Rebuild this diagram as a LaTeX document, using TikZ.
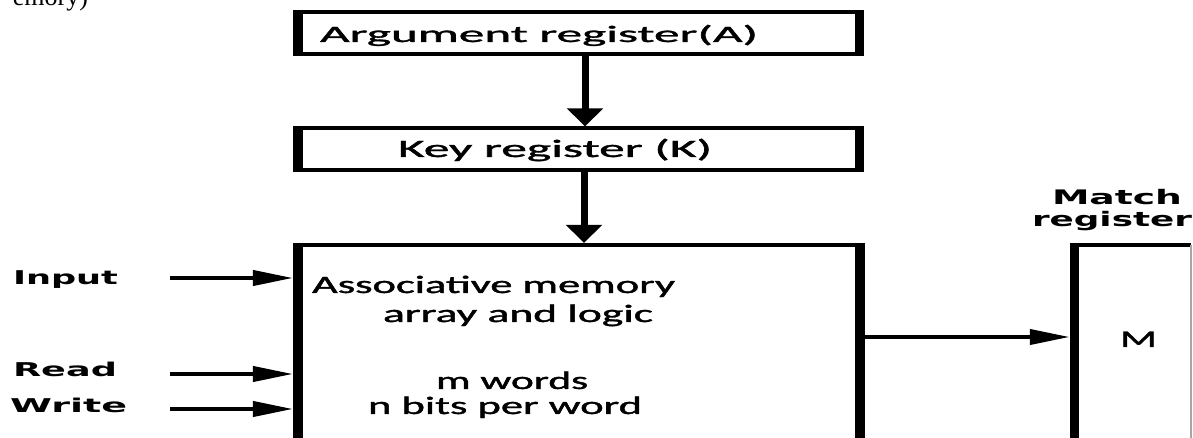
\documentclass[tikz,border=0pt]{standalone}
\usepackage{fontspec}
\usepackage{graphicx}
\usetikzlibrary{arrows.meta,calc}
\newfontfamily\cfont[FakeBold=1.2]{Carlito}
\newfontfamily\bfont{DejaVu Sans}
\newfontfamily\tfont{Liberation Serif}
\newcommand{\fitw}[4]{\resizebox{#1}{\height}{#2\fontsize{#3}{#3}\selectfont #4}}
\begin{document}
\begin{tikzpicture}[x=1bp,y=-1bp,
  txt/.style={inner sep=0pt, outer sep=0pt},
  frame/.style={draw=none, inner sep=0pt, outer sep=0pt},
  hl/.style={line width=4bp},
  vl/.style={line width=9.5bp},
  downarrow/.style={line width=7bp, -{Triangle[length=18bp,width=35bp]}},
  rightarrow/.style={line width=4bp, -{Triangle[length=40bp,width=15bp]}},
]
\path[use as bounding box, clip] (0,0) rectangle (1193,438);
\fill[white] (0,0) rectangle (1193,438);

% box frames
\node[frame, minimum width=561.5bp, minimum height=42bp] (arg) at (578.75,33) {};
\node[frame, minimum width=561.5bp, minimum height=42bp] (key) at (578.75,149.5) {};
\node[frame, minimum width=562bp, minimum height=225bp] (mem) at (579,357.5) {};
\node[frame, minimum width=116.5bp, minimum height=225bp] (match) at (1132.75,357.5) {};

\foreach \n in {arg,key,mem}{
  \draw[hl] (\n.north west) rectangle (\n.south east);
  \draw[vl] ([yshift=2bp]\n.north west) -- ([yshift=-2bp]\n.south west);
  \draw[vl] ([yshift=2bp]\n.north east) -- ([yshift=-2bp]\n.south east);
}
\draw[hl] (match.south west) -- (match.north west) -- (match.north east);
\draw[line width=2bp, gray!70] (match.north east) -- (match.south east);
\draw[vl] ([yshift=2bp]match.north west) -- ([yshift=-2bp]match.south west);

% texts
\node[txt, anchor=base east] (frag) at (88,6) {\tfont\fontsize{26bp}{26bp}\selectfont emory)};
\node[txt, anchor=base west] (targ) at (320,42) {\fitw{438bp}{\cfont}{23.5bp}{Argument register(A)}};
\node[txt, anchor=base west] (tkey) at (398,157) {\fitw{314bp}{\cfont}{25bp}{Key register (K)}};
\node[txt, anchor=base west] (tm1) at (312,293) {\fitw{363bp}{\cfont}{25bp}{Associative memory}};
\node[txt, anchor=base west] (tm2) at (383,322) {\fitw{270bp}{\cfont}{25bp}{array and logic}};
\node[txt, anchor=base west] (tm3) at (436,389) {\fitw{152bp}{\cfont}{25bp}{m words}};
\node[txt, anchor=base west] (tm4) at (368,414) {\fitw{274bp}{\cfont}{25bp}{n bits per word}};
\node[txt, anchor=base west] (tM) at (1120,347) {\fitw{37bp}{\cfont}{24bp}{M}};
\node[txt, anchor=base west] (tin) at (13,285) {\fitw{105bp}{\bfont\bfseries}{19bp}{Input}};
\node[txt, anchor=base west] (trd) at (13,377) {\fitw{104bp}{\bfont\bfseries}{19bp}{Read}};
\node[txt, anchor=base west] (twr) at (10,413) {\fitw{117bp}{\bfont\bfseries}{19bp}{Write}};
\node[txt, anchor=base west] (tmatch) at (1052,205) {\fitw{130bp}{\bfont\bfseries}{20bp}{Match}};
\node[txt, anchor=base west] (treg) at (1032,227) {\fitw{160bp}{\bfont\bfseries}{20bp}{register}};

% vertical arrows
\coordinate (a1x) at (585,0);
\coordinate (a2x) at (584,0);
\draw[downarrow] ([yshift=-2bp]arg.south -| a1x) -- ([yshift=2bp]key.north -| a1x);
\draw[downarrow] ([yshift=-2bp]key.south -| a2x) -- ([yshift=2bp]mem.north -| a2x);

% input arrows
\coordinate (in1) at (170,278);
\coordinate (in2) at (170,374);
\coordinate (in3) at (170,409);
\foreach \c in {in1,in2,in3}{
  \draw[rightarrow] (\c) -- ($(mem.west |- \c)+(-5,0)$);
}
% output arrow
\coordinate (oy) at (0,337);
\draw[rightarrow] ($(mem.east |- oy)+(5,0)$) -- ($(match.west |- oy)+(-4.75,0)$);
\end{tikzpicture}
\end{document}
